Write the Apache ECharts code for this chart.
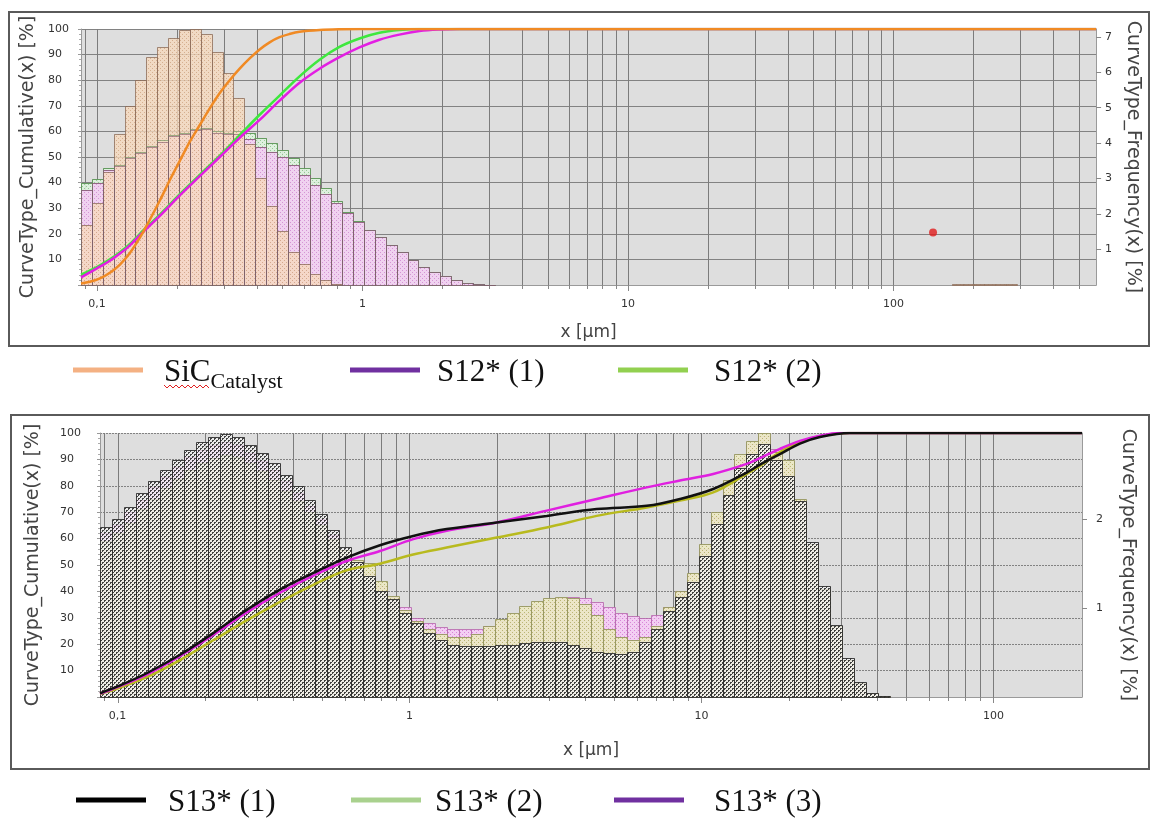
<!DOCTYPE html>
<html><head><meta charset="utf-8">
<script src="https://cdn.jsdelivr.net/npm/echarts@6/dist/echarts.min.js"></script>
<style>html,body{margin:0;padding:0;background:#fff}#c{width:1150px;height:824px}</style>
</head><body><div id="c"></div>
<script>
// ---------- size classes (µm), lower/upper edges of the instrument bins ----------
const binEdges = [0.0871,0.0957,0.1052,0.1156,0.1271,0.1396,0.1535,0.1687,0.1854,0.2037,
  0.2239,0.2460,0.2704,0.2972,0.3266,0.3589,0.3945,0.4335,0.4764,0.5236,
  0.5754,0.6324,0.6950,0.7638,0.8395,0.9226,1.0139,1.1143,1.2246,1.3459,
  1.4791,1.6255,1.7865,1.9634,2.1577,2.3714,2.6062,2.8642,3.1477,3.4594,
  3.8019,4.1783,4.5920,5.0466,5.5463,6.0954,6.6988,7.3621,8.0910,8.8920,
  9.7724,10.740,11.803,12.972,14.256,15.668,17.219,18.923,20.797,22.856,
  25.119,27.606,30.339,33.343,36.644,40.272,44.259,48.641,53.46,58.75,
  64.57,70.96,77.98,85.70,94.19,103.5,113.8,125.0,137.4,151.0,
  166.0,182.4,200.4,220.3,242.1,266.1,292.4];

// vertical log grid lines / ticks (µm)
const logGridValues = [0.09,0.1,0.2,0.3,0.4,0.5,0.6,0.7,0.8,0.9,1,2,3,4,5,6,7,8,9,
  10,20,30,40,50,60,70,80,90,100,200,300,400,500];

// x-axis tick labels (decades)
const decadeLabels = {'-1':'0,1','0':'1','1':'10','2':'100'};

// ---------- upper chart: SiC catalyst / S12* ----------
// frequency q(x) [%] per bin (right axis)
const sicFreq = [1.70,2.31,3.18,4.26,5.05,5.78,6.43,6.71,6.97,7.20,7.22,7.08,6.57,5.99,5.27,3.97,3.03,2.24,1.52,0.94,
  0.58,0.32,0.14,0.04,0,0,0,0,0,0,0,0,0,0,0,0,0,0,0,0,
  0,0,0,0,0,0,0,0,0,0,0,0,0,0,0,0,0,0,0,0,
  0,0,0,0,0,0,0,0,0,0,0,0,0,0,0,0,0,0,0,0,
  0.02,0.03,0.04,0.04,0.03,0.02];
const s12aFreq = [2.67,2.89,3.25,3.36,3.57,3.72,3.90,4.04,4.19,4.26,4.37,4.40,4.30,4.26,4.26,4.12,3.90,3.75,3.61,3.39,
  3.10,2.82,2.58,2.31,2.02,1.79,1.55,1.34,1.13,0.94,0.71,0.52,0.38,0.24,0.14,0.07,0.03,0.01];
const s12bFreq = [2.89,2.98,3.29,3.39,3.61,3.75,3.93,4.08,4.22,4.30,4.40,4.43,4.33,4.30,4.33,4.30,4.14,4.00,3.81,3.57,
  3.29,3.01,2.73,2.38,2.06,1.81,1.55,1.34,1.13,0.92,0.71,0.52,0.38,0.24,0.14,0.07,0.03,0.01];
// cumulative Q(x) [%]  ([size µm, %])
const sicCum = [[0.0871,0.6],[0.0941,1.3],[0.1027,2.6],[0.1119,4.8],[0.1221,8],[0.1331,12.5],[0.1451,18.5],[0.1582,25.5],
  [0.1726,33],[0.1882,41],[0.2052,48.5],[0.2238,56],[0.2440,62.5],[0.2661,69],[0.2902,75],[0.3164,80],[0.3449,84.5],
  [0.3761,88.5],[0.4101,92],[0.4472,94.8],[0.4876,96.8],[0.53,98],[0.5798,98.9],[0.6894,99.6],[0.8197,99.9],[0.9747,100],[580,100]];
const s12aCum = [[0.0871,3],[0.1,6.5],[0.1119,9.5],[0.1221,12.3],[0.1331,15.5],[0.1451,19.5],[0.1726,27],[0.2052,35],
  [0.2440,42.5],[0.2902,50],[0.3449,57.5],[0.4101,64.5],[0.4876,72],[0.5798,79],[0.6894,84.5],[0.8197,89],[0.9747,92.8],
  [1.159,95.8],[1.378,97.8],[1.639,99.2],[1.949,99.8],[2.317,100],[580,100]];
const s12bCum = [[0.0871,4],[0.1,7],[0.1119,10],[0.1221,12.8],[0.1331,16],[0.1451,20],[0.1726,27.5],[0.2052,35.5],
  [0.2440,43],[0.2902,50.5],[0.3449,58.5],[0.4101,66.5],[0.4876,74],[0.5798,81.5],[0.6894,88],[0.8197,93],[0.9747,96.3],
  [1.159,98.5],[1.378,99.6],[1.639,100],[580,100]];
const strayPoint = [[141,20.5]];

// ---------- lower chart: S13* ----------
const s13aFreq = [1.91,2.00,2.14,2.29,2.43,2.55,2.67,2.78,2.87,2.93,2.96,2.93,2.84,2.74,2.63,2.50,2.37,2.22,2.06,1.88,
  1.69,1.52,1.36,1.19,1.10,0.95,0.83,0.72,0.64,0.59,0.57,0.57,0.57,0.58,0.59,0.61,0.62,0.62,0.62,0.59,
  0.55,0.51,0.49,0.48,0.51,0.62,0.76,0.97,1.13,1.29,1.59,1.95,2.27,2.58,2.73,2.85,2.67,2.49,2.20,1.74,
  1.25,0.81,0.44,0.17,0.04,0.01];
const s13bFreq = [1.75,1.84,1.96,2.11,2.23,2.35,2.45,2.55,2.63,2.69,2.72,2.70,2.63,2.54,2.44,2.32,2.20,2.08,1.93,1.78,
  1.65,1.54,1.51,1.31,1.14,0.98,0.86,0.77,0.71,0.67,0.67,0.71,0.80,0.88,0.95,1.02,1.08,1.11,1.13,1.11,
  1.05,0.92,0.77,0.67,0.64,0.68,0.80,1.01,1.19,1.40,1.72,2.08,2.44,2.73,2.88,2.97,2.76,2.67,2.23,1.72,
  1.22,0.80,0.42,0.16,0.04,0.01];
const s13cFreq = [1.85,1.94,2.08,2.22,2.36,2.48,2.59,2.70,2.78,2.84,2.87,2.84,2.75,2.66,2.55,2.43,2.30,2.15,2.00,1.82,
  1.64,1.48,1.40,1.25,1.13,1.01,0.89,0.83,0.79,0.76,0.76,0.77,0.80,0.85,0.89,0.95,1.01,1.07,1.11,1.13,
  1.11,1.07,1.01,0.95,0.91,0.89,0.92,1.01,1.19,1.37,1.66,2.02,2.38,2.67,2.85,2.94,2.79,2.58,2.20,1.72,
  1.22,0.80,0.42,0.16,0.04,0.01];
const s13aCum = [[0.0871,1.4],[0.1,4],[0.1259,9],[0.1637,16],[0.2128,24.2],[0.2769,33],[0.36,40.7],[0.4683,47],
  [0.6092,52.8],[0.7924,57.5],[1.030,61],[1.341,63.6],[1.989,66.1],[2.951,68.6],[4.375,71.2],[6.492,72.4],[8.44,75],
  [10.97,78.8],[14.28,85],[15.86,88],[18.57,92],[21.74,96],[25.46,98.5],[32.25,100],[201,100]];
const s13bCum = [[0.0871,1.2],[0.1,3.2],[0.1259,7.5],[0.1637,14],[0.2128,21.5],[0.2769,29],[0.36,36],[0.4683,42.5],
  [0.6092,48],[0.7924,50.5],[1.030,54],[1.341,56.6],[1.989,60.4],[2.951,64.2],[4.375,68.6],[6.492,71.8],[8.44,74.4],
  [10.97,77.5],[14.28,84.5],[15.86,87.5],[18.57,92.8],[21.74,96.5],[25.46,98.8],[32.25,100],[201,100]];
const s13cCum = [[0.0871,1.3],[0.1,3.8],[0.1259,8.5],[0.1637,15.5],[0.2128,23.5],[0.2769,32],[0.36,39.5],[0.4683,46],
  [0.6092,51.5],[0.7924,55.3],[1.030,59.8],[1.341,63],[1.989,66.1],[2.951,70.6],[4.375,75],[6.492,79.4],[8.44,82],
  [10.97,84.5],[14.28,88.3],[15.86,90.5],[18.57,94],[21.74,97],[25.46,99],[29.81,100],[201,100]];

// ---------- helpers ----------
function pattern(bg, dot, cells) {
  const c = document.createElement('canvas'); c.width = 4; c.height = 4;
  const g = c.getContext('2d');
  g.fillStyle = bg; g.fillRect(0, 0, 4, 4);
  g.fillStyle = dot; cells.forEach(p => g.fillRect(p[0], p[1], 1, 1));
  return { image: c, repeat: 'repeat' };
}
const sparse = [[0,0],[2,2]];
const dense = [[0,0],[1,0],[0,1],[2,2],[3,2],[2,3]];
const fillSic = pattern('rgba(246,216,188,0.78)', 'rgba(190,140,100,0.55)', sparse);
const fillPink = pattern('rgba(242,206,242,0.9)', 'rgba(205,125,205,0.7)', sparse);
const fillGreen = pattern('rgba(222,242,222,0.9)', 'rgba(120,185,120,0.7)', sparse);
const fillDark = pattern('rgba(238,238,238,0.72)', 'rgba(25,25,25,0.8)', dense);
const fillOlive = pattern('rgba(236,232,196,0.92)', 'rgba(170,165,90,0.75)', sparse);
const fillPink2 = pattern('rgba(244,204,244,0.92)', 'rgba(205,110,205,0.75)', sparse);

function hist(name, gi, yi, values, fill, stroke, z) {
  const data = [];
  values.forEach((v, i) => { if (v > 0) data.push([binEdges[i], binEdges[i + 1], v]); });
  return {
    type: 'custom', name, xAxisIndex: gi, yAxisIndex: yi, z, silent: true,
    encode: { x: [0, 1], y: 2 }, data,
    renderItem(params, api) {
      const a = api.coord([api.value(0), api.value(2)]);
      const b = api.coord([api.value(1), 0]);
      const x0 = Math.round(a[0]) + 0.5, x1 = Math.round(b[0]) + 0.5;
      return { type: 'rect', shape: { x: x0, y: Math.round(a[1]) + 0.5, width: x1 - x0, height: Math.round(b[1]) - Math.round(a[1]) },
        style: { fill, stroke, lineWidth: 1 } };
    }
  };
}
function gridLines(gi, yi) {
  return {
    type: 'custom', xAxisIndex: gi, yAxisIndex: yi, z: 1, silent: true,
    encode: { x: 0, y: 1 }, data: logGridValues.map(v => [v, 0]),
    renderItem(params, api) {
      const cs = params.coordSys;
      const p0 = api.coord([api.value(0), 0]);
      const p1 = api.coord([api.value(0), 100]);
      if (p0[0] < cs.x + 1 || p0[0] > cs.x + cs.width - 1) return null;
      const x = Math.round(p0[0]) + 0.5;
      const dec = Math.abs(Math.log10(api.value(0)) - Math.round(Math.log10(api.value(0)))) < 1e-6;
      return { type: 'group', children: [
        { type: 'line', shape: { x1: x, y1: p0[1], x2: x, y2: p1[1] }, style: { stroke: '#7c7c7c', lineWidth: 1 } },
        { type: 'line', shape: { x1: x, y1: p0[1], x2: x, y2: p0[1] + (dec ? 6 : 4) }, style: { stroke: '#888', lineWidth: 1 } }
      ] };
    }
  };
}
function cum(name, gi, yi, data, color) {
  return { type: 'line', name, xAxisIndex: gi, yAxisIndex: yi, data, smooth: 0.35, symbol: 'none', z: 10,
    lineStyle: { color, width: 2.5 }, silent: true };
}
const fmtX = v => { const p = Math.log10(v), r = Math.round(p); return Math.abs(p - r) < 1e-6 && decadeLabels[r] !== undefined ? decadeLabels[r] : ''; };

function xAxis(gi, max, gap) {
  return { type: 'log', gridIndex: gi, min: 0.0871, max, logBase: 10,
    axisLine: { show: true, lineStyle: { color: '#9a9a9a' } }, axisTick: { show: false }, splitLine: { show: false },
    axisLabel: { formatter: fmtX, interval: 0, color: '#333', fontSize: 11, margin: 14, fontFamily: 'DejaVu Sans' },
    name: 'x [µm]', nameLocation: 'middle', nameGap: gap, nameTextStyle: { fontSize: 17, color: '#444', fontFamily: 'DejaVu Sans' } };
}
function yLeft(gi, gap, margin, dotted) {
  return { type: 'value', gridIndex: gi, position: 'left', min: 0, max: 100, interval: 10,
    axisLine: { show: true, lineStyle: { color: '#9a9a9a' } },
    axisTick: { show: true, length: 3, lineStyle: { color: '#999' } },
    minorTick: { show: true, splitNumber: 5, length: 2, lineStyle: { color: '#aaa' } },
    axisLabel: { showMinLabel: false, fontSize: 11, color: '#333', align: 'left', margin, fontFamily: 'DejaVu Sans' },
    splitLine: { show: true, lineStyle: { color: '#828282', width: 1, type: dotted ? [2, 1] : 'solid' } },
    name: 'CurveType_Cumulative(x) [%]', nameLocation: 'middle', nameRotate: 90, nameGap: gap,
    nameTextStyle: { fontSize: 19, color: '#444', fontFamily: 'DejaVu Sans' } };
}
function yRight(gi, max, gap, margin) {
  return { type: 'value', gridIndex: gi, position: 'right', min: 0, max, interval: 1,
    axisLine: { show: true, lineStyle: { color: '#9a9a9a' } },
    axisTick: { show: true, length: 5, lineStyle: { color: '#888' } },
    axisLabel: { showMinLabel: false, showMaxLabel: false, fontSize: 11, color: '#333', margin, fontFamily: 'DejaVu Sans' },
    splitLine: { show: false },
    name: 'CurveType_Frequency(x) [%]', nameLocation: 'middle', nameRotate: -90, nameGap: gap,
    nameTextStyle: { fontSize: 19, color: '#444', fontFamily: 'DejaVu Sans' } };
}

// legend (drawn as graphic: the legend swatches differ from the plotted line colours)
function legendItem(x, y, w, color, textX, text, rich) {
  const items = [{ type: 'rect', shape: { x, y: y - 2.5, width: w, height: 5 }, style: { fill: color } }];
  items.push({ type: 'text', x: textX, y: y + 3, style: { text, fill: '#111', font: '31px "Liberation Serif"', verticalAlign: 'middle', rich } });
  return items;
}
const wavy = [];
for (let x = 164; x <= 210; x += 3) wavy.push([x, (x - 164) % 6 === 0 ? 385 : 388]);

const graphic = [
  { type: 'rect', shape: { x: 9, y: 12, width: 1140, height: 334 }, style: { fill: 'none', stroke: '#5a5a5a', lineWidth: 2 }, z: -10 },
  { type: 'rect', shape: { x: 11, y: 415, width: 1138, height: 354 }, style: { fill: 'none', stroke: '#5a5a5a', lineWidth: 2 }, z: -10 },
  ...legendItem(73, 370, 70, '#f4b183', 164, '{a|SiC}{b|Catalyst}', {
    a: { fontSize: 31, fontFamily: 'Liberation Serif', fill: '#111' },
    b: { fontSize: 22, fontFamily: 'Liberation Serif', fill: '#111', padding: [18, 0, 0, 0] } }),
  { type: 'polyline', shape: { points: wavy }, style: { stroke: '#e02020', lineWidth: 1, fill: 'none' } },
  ...legendItem(350, 370, 70, '#7030a0', 437, 'S12* (1)'),
  ...legendItem(618, 370, 70, '#92d050', 714, 'S12* (2)'),
  ...legendItem(76, 800, 70, '#000000', 168, 'S13* (1)'),
  ...legendItem(351, 800, 70, '#a9d18e', 435, 'S13* (2)'),
  ...legendItem(614, 800, 70, '#7030a0', 714, 'S13* (3)')
];

const chart = echarts.init(document.getElementById('c'), null, { renderer: 'canvas' });
chart.setOption({
  animation: false,
  backgroundColor: '#ffffff',
  textStyle: { fontFamily: 'DejaVu Sans' },
  grid: [
    { left: 81, top: 29, width: 1017, height: 256, show: true, backgroundColor: '#dedede', borderWidth: 0 },
    { left: 100, top: 433, width: 982, height: 264, show: true, backgroundColor: '#dedede', borderWidth: 0 }
  ],
  xAxis: [xAxis(0, 580, 39), xAxis(1, 201, 45)],
  yAxis: [yLeft(0, 43, 33, false), yRight(0, 7.22, 24, 9), yLeft(1, 57, 40, true), yRight(1, 2.97, 36, 14)],
  graphic,
  series: [
    gridLines(0, 0),
    gridLines(1, 2),
    hist('S12* (2)', 0, 1, s12bFreq, fillGreen, 'rgba(80,170,80,0.9)', 3),
    hist('S12* (1)', 0, 1, s12aFreq, fillPink, 'rgba(150,90,140,0.75)', 4),
    hist('SiC Catalyst', 0, 1, sicFreq, fillSic, 'rgba(130,95,75,0.7)', 5),
    // S12* bin outlines showing through the SiC bars
    hist('S12* (2) outline', 0, 1, s12bFreq, 'none', 'rgba(110,140,100,0.55)', 6),
    hist('S12* (1) outline', 0, 1, s12aFreq, 'none', 'rgba(130,90,110,0.55)', 6),
    cum('S12* (2)', 0, 0, s12bCum, '#3ee83e'),
    cum('S12* (1)', 0, 0, s12aCum, '#e31ee3'),
    cum('SiC Catalyst', 0, 0, sicCum, '#f08a24'),
    { type: 'scatter', xAxisIndex: 0, yAxisIndex: 0, data: strayPoint, symbolSize: 8, itemStyle: { color: '#e01b1b' }, z: 12, silent: true },
    hist('S13* (3)', 1, 3, s13cFreq, fillPink2, 'rgba(180,100,170,0.8)', 3),
    hist('S13* (2)', 1, 3, s13bFreq, fillOlive, 'rgba(150,150,95,0.9)', 4),
    hist('S13* (1)', 1, 3, s13aFreq, fillDark, 'rgba(40,40,40,0.85)', 5),
    cum('S13* (2)', 1, 2, s13bCum, '#b8ba1e'),
    cum('S13* (3)', 1, 2, s13cCum, '#e020e0'),
    cum('S13* (1)', 1, 2, s13aCum, '#111111')
  ]
});
</script></body></html>
